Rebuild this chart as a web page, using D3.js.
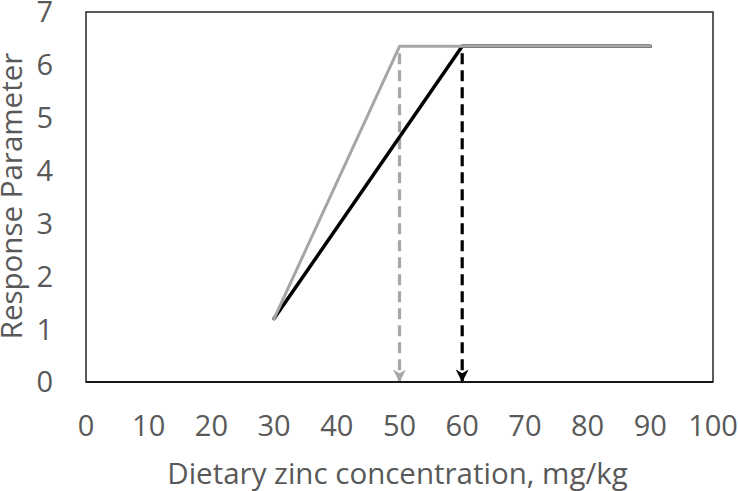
<!DOCTYPE html>
<html>
<head>
<meta charset="utf-8">
<script src="https://cdn.jsdelivr.net/npm/d3@7"></script>
<style>
  body { margin: 0; background: #fff; }
  text { font-family: "Open Sans", sans-serif; fill: #595959; }
</style>
</head>
<body>
<div id="chart"></div>
<script>
// broken-line response models
var grayX = [30, 50, 90],
    grayY = [1.2, 6.35, 6.35];
var blackX = [30, 60, 90],
    blackY = [1.2, 6.35, 6.35];
// break points, dropped to the axis as arrows
var breakX = [50, 60],
    breakY = [6.35, 6.35];
var xTicks = [0, 10, 20, 30, 40, 50, 60, 70, 80, 90, 100],
    yTicks = [0, 1, 2, 3, 4, 5, 6, 7];

var svg = d3.select("#chart").append("svg").attr("width", 738).attr("height", 491),
    margin = {top: 12, right: 25, bottom: 109, left: 86},
    width = 738 - margin.left - margin.right,
    height = 491 - margin.top - margin.bottom,
    g = svg.append("g").attr("transform", "translate(" + margin.left + "," + margin.top + ")");

var x = d3.scaleLinear().domain([0, 100]).range([0, width]);
var y = d3.scaleLinear().domain([0, 7]).range([height, 0]);

var defs = svg.append("defs");
[["arrGray", "#a6a6a6"], ["arrBlack", "#000"]].forEach(function(a) {
  defs.append("marker")
      .attr("id", a[0])
      .attr("viewBox", "0 0 10 10")
      .attr("refX", 9).attr("refY", 5)
      .attr("markerWidth", 4).attr("markerHeight", 4)
      .attr("markerUnits", "strokeWidth")
      .attr("orient", "auto")
    .append("path")
      .attr("d", "M0,0 L10,5 L0,10 L3,5 Z")
      .attr("fill", a[1]);
});

// plot frame
g.append("rect")
    .attr("x", 0).attr("y", 0)
    .attr("width", width).attr("height", height)
    .attr("fill", "none")
    .attr("stroke", "#262626")
    .attr("stroke-width", 1.5);

var line = d3.line()
    .x(function(d) { return x(d[0]); })
    .y(function(d) { return y(d[1]); });

// dashed drop lines
var dropColors = ["#a6a6a6", "#000"],
    dropMarkers = ["arrGray", "arrBlack"];
breakX.forEach(function(bx, i) {
  g.append("line")
      .attr("x1", x(bx)).attr("x2", x(bx))
      .attr("y1", y(breakY[i]) + 7)
      .attr("y2", y(0) - 1)
      .attr("stroke", dropColors[i])
      .attr("stroke-width", 3.2)
      .attr("stroke-dasharray", "11,6")
      .attr("marker-end", "url(#" + dropMarkers[i] + ")");
});

g.append("path")
    .datum(d3.zip(blackX, blackY))
    .attr("fill", "none")
    .attr("stroke", "#000")
    .attr("stroke-width", 3.5)
    .attr("stroke-linejoin", "round")
    .attr("stroke-linecap", "round")
    .attr("d", line);

g.append("path")
    .datum(d3.zip(grayX, grayY))
    .attr("fill", "none")
    .attr("stroke", "#a6a6a6")
    .attr("stroke-width", 3)
    .attr("stroke-linejoin", "round")
    .attr("stroke-linecap", "round")
    .attr("d", line);

// x axis
g.append("line")
    .attr("x1", 0).attr("x2", width)
    .attr("y1", height).attr("y2", height)
    .attr("stroke", "#000").attr("stroke-width", 1.5);

g.append("g")
    .selectAll("text")
    .data(xTicks)
    .enter().append("text")
      .attr("x", function(d) { return x(d); })
      .attr("y", height + 54)
      .attr("text-anchor", "middle")
      .attr("font-size", 29)
      .text(function(d) { return d; });

g.append("g")
    .selectAll("text")
    .data(yTicks)
    .enter().append("text")
      .attr("x", -33)
      .attr("y", function(d) { return y(d); })
      .attr("dy", "0.36em")
      .attr("text-anchor", "end")
      .attr("font-size", 29)
      .text(function(d) { return d; });

svg.append("text")
    .attr("x", margin.left + width / 2 - 2)
    .attr("y", 484)
    .attr("text-anchor", "middle")
    .attr("font-size", 29.5)
    .text("Dietary zinc concentration, mg/kg");

svg.append("text")
    .attr("transform", "translate(22,196) rotate(-90)")
    .attr("text-anchor", "middle")
    .attr("font-size", 29.5)
    .text("Response Parameter");
</script>
</body>
</html>
